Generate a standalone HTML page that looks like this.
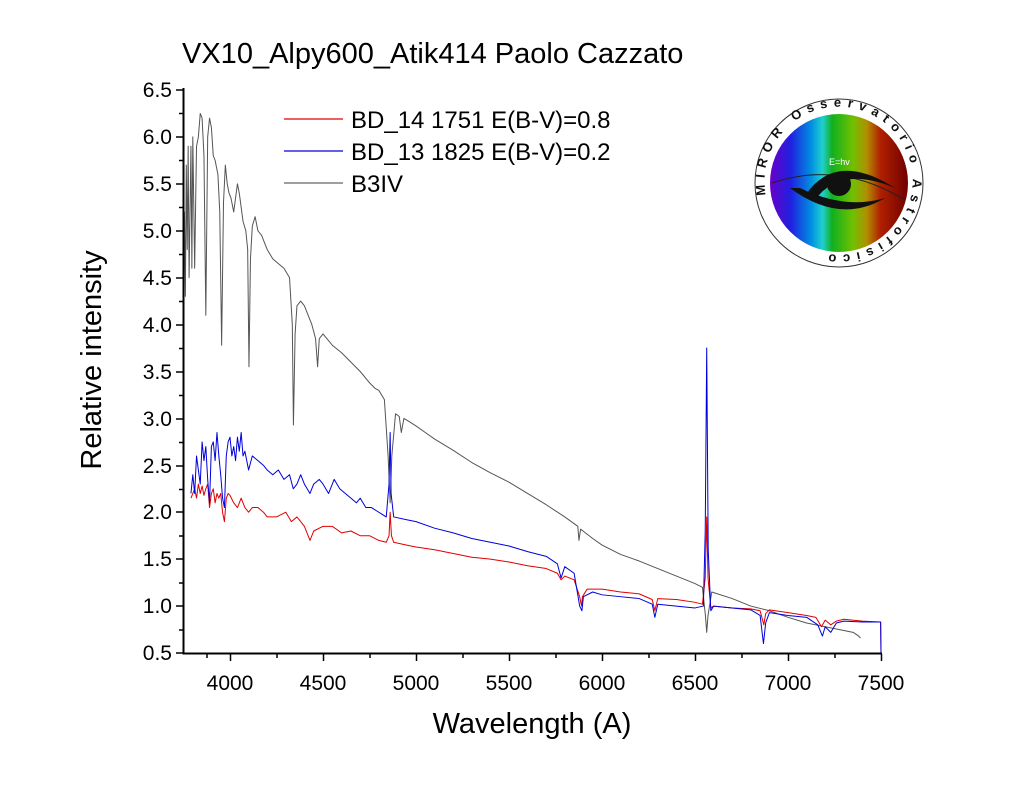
<!DOCTYPE html>
<html><head><meta charset="utf-8"><style>
body{margin:0;background:#fff;}
svg text{font-family:"Liberation Sans",Arial,sans-serif;}
</style></head><body>
<svg width="1024" height="783" viewBox="0 0 1024 783" xmlns="http://www.w3.org/2000/svg">
<rect width="1024" height="783" fill="#fff"/>
<text x="182" y="63" font-size="29">VX10_Alpy600_Atik414 Paolo Cazzato</text>
<g transform="matrix(0.186 0 0 -93.83 -514 699.9)" fill="none" stroke-linejoin="round">
<polyline vector-effect="non-scaling-stroke" stroke="#555" stroke-width="1" points="3750,4.3 3755,5.2 3760,4.3 3765,5.7 3770,4.8 3775,5.9 3780,4.5 3790,5.9 3795,4.6 3800,6.0 3810,4.6 3820,5.9 3830,6.0 3840,6.25 3850,6.2 3860,5.8 3870,4.1 3880,6.0 3890,6.2 3900,6.1 3910,5.8 3920,5.75 3935,5.6 3945,5.2 3955,3.78 3965,5.3 3975,5.7 3985,5.5 3995,5.4 4005,5.35 4020,5.2 4040,5.5 4050,5.4 4070,5.1 4085,5.0 4095,4.8 4102,3.55 4110,4.7 4120,5.05 4135,5.15 4150,5.0 4170,4.95 4200,4.8 4230,4.7 4260,4.65 4290,4.6 4320,4.5 4335,4.0 4341,2.93 4350,3.9 4360,4.2 4380,4.25 4400,4.2 4420,4.1 4440,4.0 4460,3.85 4471,3.55 4480,3.85 4500,3.9 4550,3.78 4600,3.7 4650,3.6 4700,3.5 4750,3.38 4780,3.32 4800,3.3 4830,3.2 4850,2.6 4861,2.1 4870,2.6 4890,3.05 4910,3.02 4921,2.85 4935,3.0 4960,2.97 5000,2.92 5050,2.85 5100,2.78 5200,2.66 5300,2.53 5400,2.42 5500,2.32 5600,2.2 5700,2.08 5800,1.95 5870,1.85 5876,1.7 5885,1.82 5950,1.72 6000,1.65 6100,1.55 6200,1.48 6300,1.4 6400,1.32 6500,1.24 6540,1.2 6556,0.9 6563,0.72 6570,0.9 6590,1.15 6700,1.08 6800,1.0 6900,0.95 7000,0.88 7100,0.82 7200,0.78 7300,0.74 7350,0.72 7380,0.68 7390,0.66"/>
<polyline vector-effect="non-scaling-stroke" stroke="#e00000" stroke-width="1" points="3790,2.15 3800,2.2 3810,2.25 3820,2.15 3830,2.3 3840,2.2 3850,2.28 3860,2.18 3870,2.25 3880,2.3 3890,2.05 3900,2.2 3910,2.25 3920,2.1 3930,2.2 3940,2.15 3950,2.2 3960,2.0 3970,1.9 3980,2.15 3990,2.2 4000,2.18 4020,2.1 4040,2.05 4060,2.15 4080,2.05 4100,2.0 4120,2.05 4150,2.05 4180,2.0 4200,1.95 4250,1.95 4300,2.0 4330,1.9 4360,1.95 4400,1.85 4430,1.7 4450,1.8 4500,1.85 4550,1.85 4600,1.78 4650,1.8 4700,1.75 4750,1.75 4800,1.7 4840,1.68 4855,1.75 4861,2.0 4868,1.75 4880,1.68 4950,1.65 5000,1.63 5100,1.6 5200,1.56 5300,1.52 5400,1.5 5500,1.47 5600,1.43 5700,1.4 5760,1.35 5780,1.28 5800,1.32 5850,1.28 5880,1.1 5890,1.0 5895,1.1 5920,1.18 6000,1.18 6100,1.15 6200,1.13 6270,1.07 6284,0.95 6300,1.08 6400,1.07 6500,1.04 6540,1.02 6555,1.3 6563,1.95 6570,1.3 6585,0.98 6600,1.0 6700,0.98 6800,0.97 6850,0.95 6870,0.8 6880,0.92 6900,0.96 7000,0.93 7100,0.9 7150,0.88 7180,0.78 7200,0.85 7230,0.8 7260,0.84 7300,0.86 7400,0.84 7498,0.83 7500,0.5"/>
<polyline vector-effect="non-scaling-stroke" stroke="#0000dd" stroke-width="1" points="3790,2.2 3800,2.4 3810,2.2 3820,2.6 3830,2.45 3840,2.3 3850,2.75 3860,2.55 3870,2.7 3880,2.35 3890,2.1 3900,2.7 3910,2.75 3920,2.55 3930,2.85 3940,2.6 3950,2.4 3960,2.15 3970,2.05 3980,2.6 3990,2.75 4000,2.8 4010,2.6 4020,2.7 4030,2.55 4040,2.8 4050,2.65 4060,2.85 4070,2.6 4080,2.65 4100,2.45 4120,2.6 4150,2.55 4180,2.5 4200,2.45 4230,2.4 4260,2.45 4290,2.35 4320,2.4 4340,2.25 4360,2.3 4380,2.4 4400,2.3 4430,2.2 4450,2.3 4480,2.35 4500,2.3 4530,2.2 4560,2.35 4590,2.25 4620,2.2 4650,2.15 4680,2.1 4700,2.15 4730,2.05 4760,2.05 4800,2.0 4840,1.95 4855,2.3 4861,2.85 4866,2.2 4880,1.95 4950,1.92 5000,1.9 5100,1.83 5200,1.78 5300,1.72 5400,1.68 5500,1.64 5600,1.58 5700,1.53 5760,1.45 5780,1.3 5800,1.42 5850,1.35 5880,1.0 5892,0.95 5900,1.1 5950,1.15 6000,1.12 6100,1.1 6200,1.08 6270,1.02 6284,0.88 6300,1.02 6400,1.0 6500,0.98 6545,1.0 6555,1.8 6563,3.75 6571,1.6 6585,0.95 6600,1.0 6700,0.98 6800,0.96 6850,0.9 6868,0.6 6880,0.82 6900,0.93 7000,0.9 7100,0.88 7160,0.8 7185,0.68 7200,0.78 7230,0.72 7260,0.82 7300,0.84 7400,0.83 7498,0.83 7500,0.5"/>
</g>
<g stroke="#000" stroke-width="2" fill="none">
<line x1="183.5" y1="88" x2="183.5" y2="654"/>
<line x1="182.5" y1="653.5" x2="882" y2="653.5"/>
</g>
<g stroke="#000" stroke-width="1.5">
<path d="M176 90H183M176 137H183M176 184H183M176 231H183M176 278H183M176 325H183M176 372H183M176 419H183M176 466H183M176 512H183M176 559H183M176 606H183M176 653H183"/>
<path d="M179 113.5H183M179 160.5H183M179 207.5H183M179 254.5H183M179 301.5H183M179 348.5H183M179 395.5H183M179 442.5H183M179 489.5H183M179 536H183M179 583H183M179 630H183"/>
<path d="M230.5 654V661M323.5 654V661M416.5 654V661M509.5 654V661M602.5 654V661M695.5 654V661M788.5 654V661M881.5 654V661"/>
<path d="M207 654V658M277 654V658M370 654V658M463 654V658M556 654V658M649 654V658M742 654V658M835 654V658"/>
</g>
<g font-size="21" text-anchor="end">
<text x="172" y="97">6.5</text><text x="172" y="144">6.0</text><text x="172" y="191">5.5</text><text x="172" y="238">5.0</text><text x="172" y="285">4.5</text><text x="172" y="332">4.0</text><text x="172" y="379">3.5</text><text x="172" y="426">3.0</text><text x="172" y="473">2.5</text><text x="172" y="519">2.0</text><text x="172" y="566">1.5</text><text x="172" y="613">1.0</text><text x="172" y="660">0.5</text>
</g>
<g font-size="21" text-anchor="middle">
<text x="230" y="690">4000</text><text x="323" y="690">4500</text><text x="416" y="690">5000</text><text x="509" y="690">5500</text><text x="602" y="690">6000</text><text x="695" y="690">6500</text><text x="788" y="690">7000</text><text x="881" y="690">7500</text>
</g>
<text x="532" y="733" font-size="29" text-anchor="middle">Wavelength (A)</text>
<text transform="translate(101 360) rotate(-90)" font-size="29" text-anchor="middle">Relative intensity</text>
<g stroke-width="1.2">
<line x1="284" y1="119" x2="343" y2="119" stroke="#e00000"/>
<line x1="284" y1="151" x2="343" y2="151" stroke="#0000dd"/>
<line x1="284" y1="183" x2="343" y2="183" stroke="#666"/>
</g>
<g font-size="24">
<text x="351" y="128">BD_14 1751 E(B-V)=0.8</text>
<text x="351" y="160">BD_13 1825 E(B-V)=0.2</text>
<text x="351" y="192">B3IV</text>
</g>
<defs>
<linearGradient id="spec" x1="0" x2="1">
<stop offset="0" stop-color="#6a00c8"/><stop offset="0.15" stop-color="#2020e0"/><stop offset="0.3" stop-color="#0090e0"/><stop offset="0.38" stop-color="#20d0d0"/><stop offset="0.45" stop-color="#10b020"/><stop offset="0.6" stop-color="#70c000"/><stop offset="0.7" stop-color="#b09000"/><stop offset="0.8" stop-color="#b02000"/><stop offset="1" stop-color="#700000"/>
</linearGradient>
<path id="ring" d="M766 195 A74 74 0 1 1 766.1 195.5"/>
</defs>
<circle cx="839" cy="183" r="84" fill="#fff" stroke="#333" stroke-width="1"/>
<circle cx="839" cy="183" r="69" fill="url(#spec)"/>
<path d="M772 183 Q840 160 905 200" stroke="#222" stroke-width="1" fill="none"/>
<path d="M805 196 Q835 150 895 188 Q840 165 815 200Z" fill="#111"/>
<path d="M790 188 Q840 225 885 198 Q845 210 800 188Z" fill="#111"/>
<circle cx="839" cy="184" r="12" fill="#111"/>
<text x="829" y="165" font-size="9" fill="#fff" font-family="Liberation Mono">E=hv</text>
<text font-size="13" font-weight="bold" fill="#111" font-family="Liberation Mono" letter-spacing="6"><textPath href="#ring">MIROR Osservatorio Astrofisico</textPath></text>
</svg>
</body></html>
